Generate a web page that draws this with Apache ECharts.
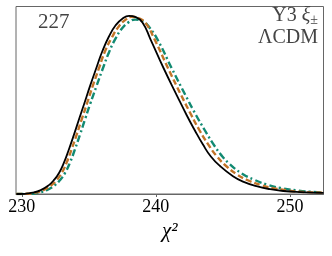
<!DOCTYPE html>
<html>
<head>
<meta charset="utf-8">
<script src="https://cdn.jsdelivr.net/npm/echarts@6/dist/echarts.min.js"></script>
<style>html,body{margin:0;padding:0;background:#fff}#c{width:332px;height:256px}</style>
</head>
<body>
<div id="c"></div>
<script>
const xTicks = [230, 240, 250];

const blackX = [229.6, 230.17, 230.8, 231.42, 232.0, 232.41, 232.8, 233.16, 233.5, 233.9, 234.3, 234.65, 235.1, 235.6, 236.0, 236.5, 237.0, 237.5, 238.0, 238.5, 239.0, 239.6, 240.57, 241.57, 242.3, 242.9, 243.5, 244.1, 244.8, 245.75, 246.5, 247.5, 248.5, 249.5, 250.8, 252.5];
const blackY = [0, 0.001, 0.007, 0.021, 0.046, 0.075, 0.115, 0.17, 0.235, 0.318, 0.405, 0.48, 0.578, 0.68, 0.76, 0.84, 0.9, 0.935, 0.95, 0.943, 0.915, 0.825, 0.672, 0.525, 0.42, 0.34, 0.265, 0.2, 0.148, 0.095, 0.066, 0.042, 0.026, 0.016, 0.01, 0.006];

const orangeX = [229.6, 230.37, 231.0, 231.62, 232.2, 232.61, 233.0, 233.36, 233.7, 234.1, 234.5, 234.85, 235.3, 235.8, 236.2, 236.72, 237.25, 237.75, 238.2, 238.7, 239.25, 239.9, 240.9, 241.9, 242.65, 243.25, 243.9, 244.5, 245.2, 246.1, 246.9, 247.9, 248.9, 249.9, 251.0, 252.5];
const orangeY = [0, 0.001, 0.007, 0.021, 0.046, 0.075, 0.115, 0.17, 0.235, 0.318, 0.405, 0.48, 0.578, 0.68, 0.76, 0.835, 0.895, 0.93, 0.945, 0.938, 0.91, 0.825, 0.672, 0.525, 0.42, 0.34, 0.265, 0.205, 0.152, 0.102, 0.072, 0.046, 0.029, 0.018, 0.011, 0.007];

const greenX = [229.6, 230.6, 231.25, 231.87, 232.45, 232.86, 233.25, 233.61, 233.95, 234.35, 234.75, 235.1, 235.57, 236.1, 236.5, 237.0, 237.5, 238.0, 238.45, 239.0, 239.5, 240.15, 241.2, 242.2, 243.0, 243.65, 244.25, 244.85, 245.5, 246.4, 247.3, 248.3, 249.3, 250.5, 251.5, 252.5];
const greenY = [0, 0.001, 0.007, 0.021, 0.046, 0.075, 0.115, 0.17, 0.235, 0.318, 0.405, 0.48, 0.575, 0.68, 0.755, 0.83, 0.885, 0.918, 0.93, 0.922, 0.89, 0.82, 0.668, 0.528, 0.42, 0.34, 0.27, 0.21, 0.16, 0.11, 0.077, 0.05, 0.032, 0.019, 0.012, 0.008];

const pairs = (xs, ys) => xs.map((x, i) => [x, ys[i]]);
const serif = '"Liberation Serif", "DejaVu Serif", serif';

const chart = echarts.init(document.getElementById('c'), null, {renderer: 'canvas'});
chart.setOption({
  animation: false,
  grid: {left: 16, right: 8.5, top: 6.5, bottom: 62, show: true, borderColor: '#666', borderWidth: 1, backgroundColor: 'transparent'},
  xAxis: {
    type: 'value', min: 229.57, max: 252.5,
    axisLine: {show: true, lineStyle: {color: '#666', width: 1}},
    axisTick: {show: true, customValues: xTicks, length: 3, inside: false, lineStyle: {color: '#666'}},
    axisLabel: {customValues: xTicks, color: '#000', fontFamily: serif, fontSize: 18, margin: 4},
    splitLine: {show: false},
    name: 'χ²', nameLocation: 'middle', nameGap: 27,
    nameTextStyle: {fontFamily: serif, fontStyle: 'italic', fontSize: 21, color: '#000'}
  },
  yAxis: {type: 'value', min: 0, max: 1, show: false},
  series: [
    {type: 'line', data: pairs(greenX, greenY), showSymbol: false, smooth: 0.5,
     lineStyle: {color: '#128a72', width: 2.4, type: [7, 3, 2, 3]}, z: 2},
    {type: 'line', data: pairs(orangeX, orangeY), showSymbol: false, smooth: 0.5,
     lineStyle: {color: '#c27428', width: 2.4, type: [6, 3]}, z: 3},
    {type: 'line', data: pairs(blackX, blackY), showSymbol: false, smooth: 0.5,
     lineStyle: {color: '#000', width: 1.8}, z: 4}
  ],
  graphic: [
    {type: 'text', left: 38, top: 12, style: {text: '227', font: '21px ' + serif, fill: '#444'}},
    {type: 'text', right: 14, top: 6, style: {
      text: '{a|Y3 }{b|ξ}{c|±}', fill: '#444', align: 'right',
      rich: {
        a: {fontFamily: serif, fontSize: 20, fill: '#444'},
        b: {fontFamily: serif, fontSize: 20, fontStyle: 'italic', fill: '#444'},
        c: {fontFamily: serif, fontSize: 14, fill: '#444', padding: [8, 0, 0, 0]}
      }}},
    {type: 'text', right: 14, top: 28, style: {text: 'ΛCDM', font: '20px ' + serif, fill: '#444', align: 'right'}}
  ]
});
</script>
</body>
</html>
